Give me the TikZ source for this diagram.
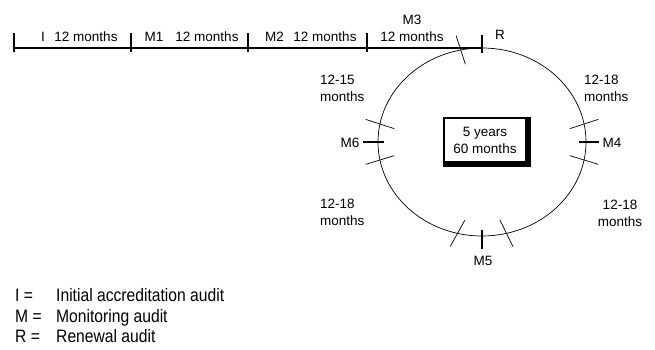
\documentclass[tikz,border=0pt]{standalone}
\usepackage{fontspec}
\setmainfont{Liberation Sans}
\newfontfamily\legendfont{Liberation Sans}[FakeStretch=0.87]
\usetikzlibrary{shapes.geometric, positioning, backgrounds}

\begin{document}
\begin{tikzpicture}[x=1pt, y=1pt,
    lbl/.style={font=\fontsize{13.5}{17}\selectfont, inner sep=0pt},
    legend/.style={font=\legendfont\fontsize{18}{21}\selectfont,
                   inner sep=0pt, anchor=base west},
    tline/.style={line width=1.6pt},
    bound/.style={line width=0.7pt},
    cyc/.style={ellipse, draw, line width=0.7pt, inner sep=0pt, outer sep=0pt,
                minimum width=208pt, minimum height=188pt},
    yearbox/.style={draw, line width=2.2pt, fill=white, align=center,
                    outer sep=0pt, minimum width=82pt, minimum height=44pt}
  ]
  \useasboundingbox (0,0) rectangle (655,-350);

  % five year cycle
  \node[cyc] (cycle) at (482,-142) {};
  \node[lbl, yearbox] (years) at (485,-140) {5 years\\60 months};
  \begin{scope}[on background layer]
    \fill ([shift={(-1pt,-5pt)}]years.south west) rectangle ([shift={(5pt,1pt)}]years.north east);
  \end{scope}

  % timeline up to the renewal audit
  \coordinate (t0) at (14,-48);
  \coordinate (t1) at (131,-48);
  \coordinate (t2) at (248,-48);
  \coordinate (t3) at (367,-48);
  \draw[tline] (t0) -- (cycle.north);
  \foreach \t in {t0,t1,t2,t3}
    \draw[tline] ([yshift=-4pt]\t) -- ++(0,19);

  % audit ticks on the cycle
  \draw[tline] ([yshift=-5pt]cycle.north) -- ++(0,18);
  \draw[tline] ([xshift=-7pt]cycle.east) -- ++(20,0);
  \draw[tline] ([yshift=6pt]cycle.south) -- ++(0,-19);
  \draw[tline] ([xshift=6pt]cycle.west) -- ++(-21,0);

  % window boundaries
  \foreach \a/\d in {10/18, 350/343, 170/162, 190/197, 255/241, 285/296, 103/108}
    \draw[bound] ([shift={(\d+180:15)}]cycle.\a) -- ++(\d:30);

  % timeline labels
  \node[lbl, anchor=base] (lI)  at (43,-41.5)  {I};
  \node[lbl, anchor=base] (p1)  at (86,-41.5)  {12 months};
  \node[lbl, anchor=base] (lM1) at (154,-41.5) {M1};
  \node[lbl, anchor=base] (p2)  at (207,-41.5) {12 months};
  \node[lbl, anchor=base] (lM2) at (274.5,-41.5) {M2};
  \node[lbl, anchor=base] (p3)  at (325,-41.5) {12 months};
  \node[lbl, anchor=north, align=center] (lM3) at (412,-15) {M3\\12 months};
  \node[lbl, anchor=base] (lR)  at (500,-40)   {R};

  % cycle labels
  \node[lbl, anchor=base] (lM4) at (612,-147.5) {M4};
  \node[lbl, anchor=base] (lM5) at (483,-265)   {M5};
  \node[lbl, anchor=base] (lM6) at (350,-147.5) {M6};
  \node[lbl, anchor=north west, align=left] (w1) at (320,-75)  {12-15\\months};
  \node[lbl, anchor=north west, align=left] (w2) at (584,-75)  {12-18\\months};
  \node[lbl, anchor=north west, align=left] (w3) at (320,-199) {12-18\\months};
  \node[lbl, anchor=north, align=center]    (w4) at (620,-200) {12-18\\months};

  % legend
  \node[legend] (kI) at (15,-301) {I =};
  \node[legend] (dI) at (56,-301) {Initial accreditation audit};
  \node[legend] (kM) at (15,-322) {M =};
  \node[legend] (dM) at (56,-322) {Monitoring audit};
  \node[legend] (kR) at (15,-342) {R =};
  \node[legend] (dR) at (56,-342) {Renewal audit};
\end{tikzpicture}
\end{document}
